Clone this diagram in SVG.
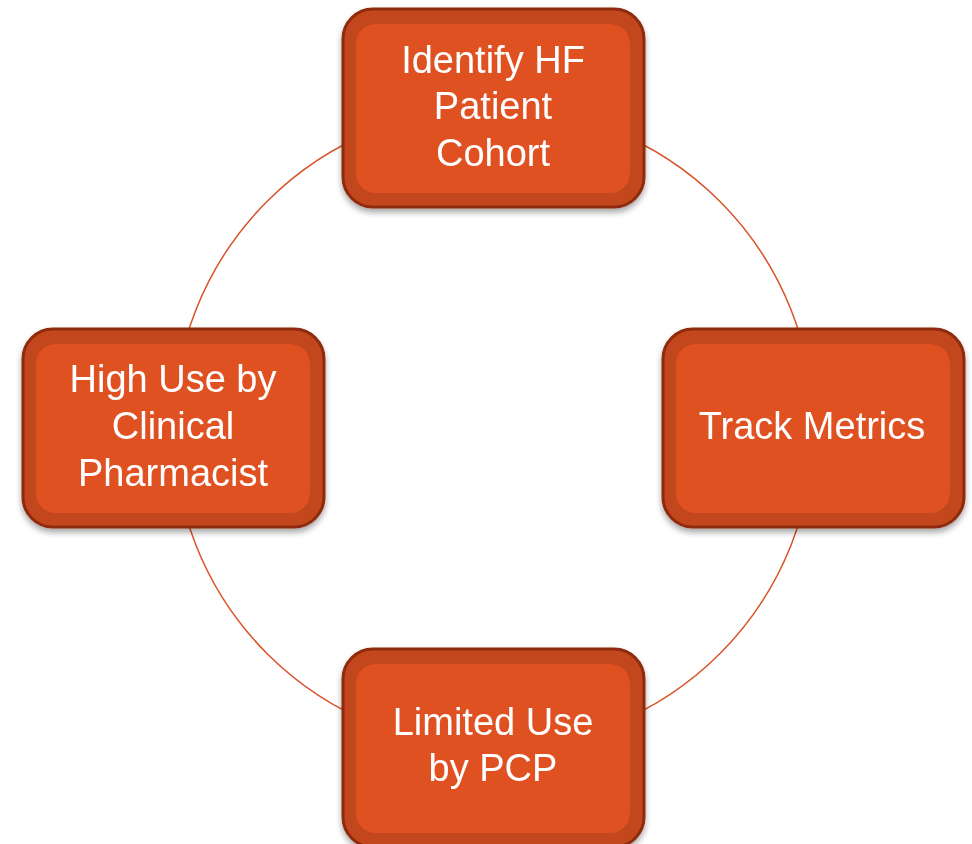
<svg xmlns="http://www.w3.org/2000/svg" width="972" height="844" viewBox="0 0 972 844">
<defs>
<filter id="sh" x="-10%" y="-10%" width="120%" height="130%">
<feGaussianBlur in="SourceAlpha" stdDeviation="3"/>
<feOffset dx="0" dy="4" result="b"/>
<feComponentTransfer><feFuncA type="linear" slope="0.35"/></feComponentTransfer>
<feMerge><feMergeNode/><feMergeNode in="SourceGraphic"/></feMerge>
</filter>
<style>
.outer{fill:#c3461f;stroke:#8e2a0c;stroke-width:3}
.inner{fill:#e05124}
.t{font-family:"Liberation Sans",Arial,sans-serif;font-size:38px;fill:#ffffff;text-anchor:middle}
.conn{fill:none;stroke:#d9532a;stroke-width:1.5}
</style>
</defs>
<rect width="972" height="844" fill="#ffffff"/>
<g id="connectors">
<circle class="conn" cx="493.5" cy="427.5" r="320"/>
</g>
<g id="n1" filter="url(#sh)">
<rect class="outer" x="343" y="9" width="301" height="198" rx="30"/>
<rect class="inner" x="356" y="24" width="274" height="169" rx="20"/>
<text class="t" x="493" y="73">Identify HF</text>
<text class="t" x="493" y="119">Patient</text>
<text class="t" x="493" y="166">Cohort</text>
</g>
<g id="n2" filter="url(#sh)">
<rect class="outer" x="663" y="329" width="301" height="198" rx="30"/>
<rect class="inner" x="676" y="344" width="274" height="169" rx="20"/>
<text class="t" x="812" y="439">Track Metrics</text>
</g>
<g id="n3" filter="url(#sh)">
<rect class="outer" x="343" y="649" width="301" height="198" rx="30"/>
<rect class="inner" x="356" y="664" width="274" height="169" rx="20"/>
<text class="t" x="493" y="735">Limited Use</text>
<text class="t" x="493" y="781">by PCP</text>
</g>
<g id="n4" filter="url(#sh)">
<rect class="outer" x="23" y="329" width="301" height="198" rx="30"/>
<rect class="inner" x="36" y="344" width="274" height="169" rx="20"/>
<text class="t" x="173" y="392">High Use by</text>
<text class="t" x="173" y="439">Clinical</text>
<text class="t" x="173" y="486">Pharmacist</text>
</g>
</svg>
